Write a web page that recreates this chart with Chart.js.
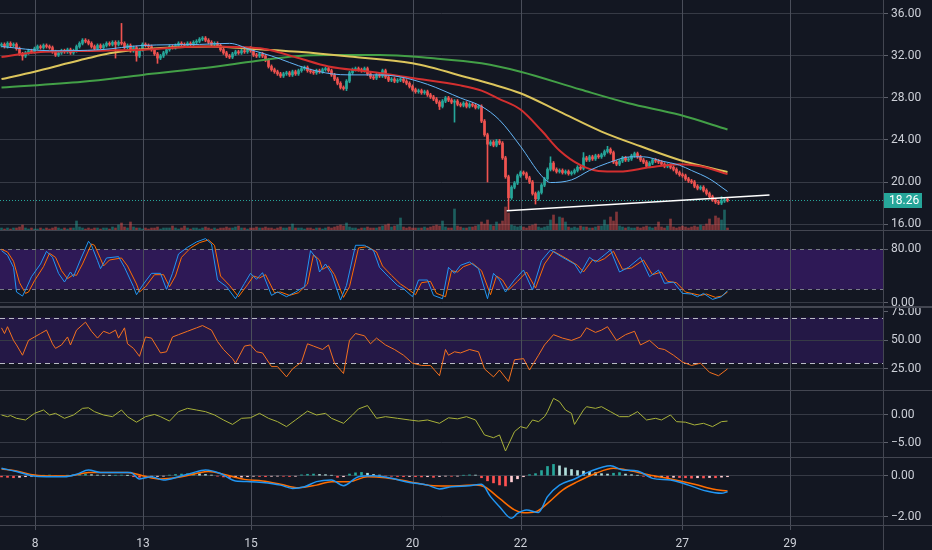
<!DOCTYPE html>
<html><head><meta charset="utf-8">
<script src="https://cdn.jsdelivr.net/npm/chart.js@4.4.1/dist/chart.umd.min.js"></script>
<style>
html,body{margin:0;padding:0;background:#131722;width:932px;height:550px;overflow:hidden;}
canvas{position:absolute;left:0;z-index:2;}
.sep{position:absolute;left:0;width:932px;background:#434651;z-index:3;}
.vg{position:absolute;top:0;width:1px;height:530px;background:#4a4e5a;z-index:1;}
#vline{position:absolute;left:883px;top:0;width:1px;height:550px;background:#434651;z-index:3;}
</style></head><body>
<canvas id="cMain" width="932" height="230" style="top:0px;width:932px;height:230px"></canvas>
<canvas id="cStoch" width="932" height="75" style="top:231px;width:932px;height:75px"></canvas>
<canvas id="cRsi" width="932" height="82" style="top:308px;width:932px;height:82px"></canvas>
<canvas id="cMom" width="932" height="66" style="top:391px;width:932px;height:66px"></canvas>
<canvas id="cMacd" width="932" height="92" style="top:458px;width:932px;height:92px"></canvas>
<div class="sep" style="top:230px;height:1px"></div>
<div class="sep" style="top:306px;height:2px"></div>
<div class="sep" style="top:390px;height:1px"></div>
<div class="sep" style="top:457px;height:1px"></div>
<div class="sep" style="top:525px;height:1px"></div>
<div id="vline"></div>
<script>
// ---------------- DATA ----------------
const dayLabels = ["8","13","15","20","22","27","29"];
const dayTickBars = [11.17, 47.17, 83.17, 137, 173, 226.9, 262.83];
const priceTicks = [16, 20, 24, 28, 32, 36];
const firstOpen = 33.0;
const closes = [
33.1,32.9,33.2,33.0,33.1,32.7,32.2,32.0,32.3,32.5,32.4,32.7,32.9,32.8,33.0,32.9,32.8,32.4,32.1,32.3,
32.5,32.4,32.6,32.3,32.5,32.9,33.2,33.5,33.4,33.2,32.9,32.7,33.0,32.8,33.0,33.2,33.1,33.3,33.1,33.3,
33.2,32.8,33.0,32.5,32.8,32.0,32.6,33.1,33.0,32.9,32.6,32.2,31.8,32.0,32.3,32.6,32.9,32.8,33.0,33.2,
33.1,33.0,33.2,33.1,33.3,33.4,33.6,33.7,33.5,33.3,33.1,33.2,33.0,32.6,32.3,32.0,31.9,32.2,32.4,32.3,
32.5,32.4,32.6,32.5,32.1,32.0,32.2,32.0,31.6,31.0,30.7,30.5,30.3,30.1,30.3,30.4,30.2,30.5,30.3,30.6,
30.8,30.9,30.6,30.5,30.4,30.6,30.5,30.7,30.8,30.6,30.2,29.8,29.4,29.0,28.9,29.6,30.4,30.7,30.8,30.7,
30.6,30.8,30.3,30.0,29.9,30.2,30.1,30.6,30.0,29.7,29.8,29.6,29.7,29.8,29.6,29.4,29.1,28.8,28.6,28.7,
28.5,28.6,28.3,28.1,27.9,27.6,27.2,27.7,28.0,27.8,27.6,27.7,27.4,27.3,27.5,27.2,27.4,27.3,27.1,27.2,
25.8,24.5,23.6,23.8,23.5,23.9,23.7,22.3,20.5,18.5,19.5,19.9,20.6,20.9,20.8,20.4,20.0,18.9,18.4,19.0,
19.7,20.3,21.2,21.8,21.2,21.0,21.1,20.9,21.0,20.8,20.9,21.1,21.4,21.3,22.3,22.1,22.4,22.2,22.5,22.4,
22.6,22.9,23.1,22.8,21.9,21.7,22.0,22.3,22.1,22.2,22.5,22.7,22.4,22.1,21.9,21.5,21.8,22.1,22.0,21.9,
21.7,21.5,21.6,21.4,21.2,20.9,20.7,20.6,20.3,20.1,20.0,19.6,19.4,19.5,19.2,18.9,18.6,18.3,18.1,18.0,
18.2,18.3,18.26];
const baseWick = 0.15;
const wickExtremes = [[7,null,31.6],[38,null,31.8],[40,35.1,null],[45,null,31.5],[52,null,31.3],[83,32.9,null],
[115,null,28.7],[146,null,26.9],[151,null,25.7],[162,null,20.0],[169,null,17.3],[178,null,17.9],[183,22.4,null],
[194,22.8,null],[202,23.4,null],[240,18.6,null]];
const volumes = [
2,1,2,1,2,2,3,5,2,1,2,1,1,2,1,2,1,2,3,2,
1,2,1,2,2,9,3,2,1,2,1,2,2,1,2,2,1,3,2,5,
7,3,2,8,3,2,2,1,2,1,2,2,3,1,2,2,2,4,2,1,
2,4,2,1,2,2,1,2,3,2,1,2,1,2,2,3,2,2,3,4,
2,2,1,2,2,3,2,2,3,2,2,1,2,3,2,2,3,6,2,2,
2,1,2,2,1,2,2,1,2,3,2,3,4,5,4,7,3,2,2,1,
2,2,3,2,2,2,3,4,5,6,3,4,5,12,3,2,3,2,2,2,
2,3,2,3,4,5,4,9,3,2,2,21,4,3,2,2,3,3,4,5,
8,6,10,5,4,8,6,9,23,17,5,4,3,4,3,2,4,5,6,3,
2,3,4,10,15,6,13,12,8,3,2,3,2,4,3,3,2,2,3,4,
4,10,5,13,9,18,4,3,2,3,2,2,3,2,3,4,3,2,3,8,
3,2,4,11,3,2,3,4,3,2,3,4,3,5,4,6,11,5,14,12,
10,20,2];
const maBlue = [[0,32.9],[16,32.5],[33,32.6],[47,33.0],[66,33.1],[76,33.2],[83,32.6],[90,32.0],[102,30.8],[110,30.3],
[116,30.2],[126,30.2],[133,30.0],[142,29.3],[153,28.0],[160,27.2],[166,25.9],[173,23.4],[180,20.6],[183,19.95],
[190,20.2],[196,21.1],[202,21.8],[210,22.4],[214,22.4],[220,22.0],[226,21.6],[230,21.1],[236,20.3],[242,19.1]];
const maRed = [[0,31.9],[10,32.3],[33,32.5],[47,32.6],[66,32.9],[83,32.8],[89,32.6],[99,31.8],[109,31.0],[123,30.5],
[137,29.9],[153,29.2],[160,28.7],[166,27.9],[173,26.9],[180,24.9],[186,23.0],[193,21.6],[199,21.05],[206,21.0],
[216,21.4],[226,21.7],[233,21.5],[242,20.75]];
const maYellow = [[0,29.8],[11,30.5],[22,31.3],[29,31.8],[36,32.25],[42,32.5],[49,32.67],[57,32.8],[70,32.9],[80,32.75],
[99,32.4],[116,31.95],[137,31.3],[156,29.9],[163,29.35],[173,28.45],[186,26.7],[200,24.8],[213,23.4],[226,22.1],[242,20.95]];
const maGreen = [[0,29.0],[27,29.55],[47,30.2],[66,30.8],[83,31.45],[99,32.0],[110,32.1],[126,32.1],[143,31.8],
[160,31.3],[173,30.5],[193,28.8],[209,27.5],[226,26.4],[242,25.0]];
const trendline = [[168.4,17.27],[256,18.76]];
const lastPrice = 18.26;

const stochK = [[0,78],[2,71],[4,53],[5,16],[7,10],[8,19],[10,39],[13,58],[15,77],[17,68],[19,44],[21,31],[23,46],[24,39],
[26,61],[29,92],[30,86],[32,63],[33,51],[35,67],[39,69],[41,53],[44,24],[45,12],[47,26],[50,44],[53,44],[55,20],[57,44],
[59,73],[62,83],[65,91],[68,96],[70,88],[72,34],[75,24],[78,6],[81,29],[83,44],[85,35],[87,45],[90,11],[92,16],[95,9],
[98,16],[101,24],[103,78],[105,66],[106,46],[108,58],[110,44],[113,4],[115,26],[118,86],[121,86],[124,78],[126,53],
[129,39],[132,26],[134,21],[137,9],[139,34],[142,34],[144,11],[147,6],[149,53],[151,44],[153,56],[156,61],[159,51],
[162,6],[164,44],[166,34],[168,16],[171,34],[174,49],[177,19],[180,63],[183,79],[187,68],[191,58],[193,44],[196,68],
[198,61],[200,68],[203,79],[206,46],[209,53],[213,68],[216,39],[219,49],[221,29],[224,31],[227,14],[230,13],[232,9],
[234,14],[237,5],[240,9],[242,18]];
const stochD = [[0,80],[2,76],[4,62],[6,30],[8,14],[9,16],[11,33],[14,54],[16,74],[18,68],[20,48],[22,36],[24,42],[25,41],
[27,58],[30,88],[31,86],[33,66],[34,55],[36,64],[40,67],[42,55],[45,28],[46,16],[48,24],[51,42],[54,42],[56,24],[58,40],
[60,68],[63,82],[66,90],[69,94],[71,86],[73,40],[76,26],[79,9],[82,27],[84,40],[86,37],[88,42],[91,15],[93,16],[96,11],
[99,15],[102,28],[104,72],[106,64],[107,50],[109,55],[111,42],[114,8],[116,24],[119,82],[122,84],[125,76],[127,55],
[130,41],[133,28],[135,22],[138,12],[140,30],[143,32],[145,14],[148,9],[150,48],[152,46],[154,54],[157,59],[160,48],
[163,12],[165,40],[167,34],[169,19],[172,32],[175,46],[178,22],[181,58],[184,77],[188,67],[192,56],[194,46],[197,64],
[199,62],[201,66],[204,77],[207,50],[210,52],[214,64],[217,42],[220,46],[222,32],[225,30],[228,16],[231,13],[233,11],
[235,13],[238,8],[240,10],[242,16]];
const rsi = [[0,61],[1,56],[2,62],[4,50],[5,46],[7,37],[9,50],[11,53],[13,56],[15,59],[17,47],[18,43],[20,46],[22,53],
[23,46],[25,59],[28,66],[30,58],[32,52],[34,58],[36,56],[38,59],[39,52],[41,61],[42,47],[44,43],[46,36],[48,53],[50,52],
[53,39],[55,40],[57,53],[59,55],[62,58],[65,61],[67,63],[70,59],[72,49],[74,42],[77,34],[78,30],[81,45],[83,46],[85,40],
[87,39],[90,27],[92,27],[95,18],[97,25],[100,31],[102,47],[104,45],[107,42],[109,46],[111,30],[114,21],[116,50],[118,56],
[121,54],[123,47],[125,52],[128,46],[131,42],[134,37],[137,30],[140,28],[143,28],[146,19],[148,42],[149,37],[151,40],
[153,39],[156,42],[159,40],[161,25],[164,18],[166,24],[169,14],[171,33],[174,34],[176,24],[179,37],[181,46],[184,55],
[187,52],[190,50],[193,53],[195,61],[198,57],[200,59],[202,62],[205,50],[208,55],[211,58],[213,46],[216,50],[219,43],
[221,42],[224,37],[227,31],[230,28],[233,30],[236,22],[239,19],[242,25]];
const momentum = [[0,0],[2,-0.3],[3,-0.1],[5,-0.6],[8,-0.9],[11,0.3],[14,0.9],[16,0],[18,0.3],[21,-0.6],[24,0],[27,1.2],
[29,1.3],[31,0.6],[34,0],[37,-0.3],[40,0.9],[42,-0.3],[45,-1.3],[48,-0.3],[51,0.1],[53,-0.3],[56,-1.1],[59,0.6],[62,1.2],
[65,0.9],[68,0.6],[71,0],[74,-0.9],[77,-1.7],[80,-0.6],[83,-0.5],[86,0.3],[89,-0.6],[92,-1.2],[95,-2.1],[98,-0.9],[102,0.7],
[105,0],[108,0.3],[110,-0.6],[114,-1.5],[117,0],[119,1.1],[122,1.7],[125,-0.6],[128,-0.3],[132,-0.6],[136,-0.9],[139,-1.1],
[142,-0.9],[146,-1.5],[149,-0.5],[152,-0.7],[155,-0.3],[158,-0.9],[161,-3.6],[164,-4.1],[166,-3.6],[168,-6.5],[171,-3.0],
[173,-2.1],[175,-2.4],[177,-0.9],[179,-1.2],[181,-0.3],[182,0.6],[184,3.0],[186,2.4],[188,0.9],[190,0.3],[191,-1.7],
[194,0.9],[195,1.5],[198,1.2],[200,1.5],[203,0.6],[206,-0.3],[209,-0.3],[212,0.6],[215,-0.9],[218,-0.6],[220,-0.9],
[223,0],[225,-1.2],[228,-1.3],[231,-1.8],[234,-1.5],[237,-2.1],[240,-1.2],[242,-1.1]];
const macdLine = [[0,0.36],[5,0.2],[10,0],[15,-0.05],[21,-0.05],[25,0.07],[29,0.28],[33,0.16],[39,0.15],[43,0.16],
[46,-0.16],[50,-0.05],[54,-0.21],[59,-0.05],[63,0.11],[68,0.28],[73,0.11],[78,-0.26],[83,-0.29],[87,-0.33],[93,-0.46],
[97,-0.62],[101,-0.54],[105,-0.29],[110,-0.21],[114,-0.49],[119,-0.05],[124,0],[130,-0.13],[136,-0.33],[142,-0.46],
[146,-0.65],[150,-0.54],[156,-0.49],[160,-0.42],[163,-1.02],[166,-1.51],[170,-2.08],[172,-1.84],[175,-1.67],[179,-1.79],
[182,-1.02],[186,-0.46],[191,-0.16],[196,0.2],[203,0.49],[207,0.28],[212,0.23],[217,-0.13],[223,-0.21],[229,-0.46],
[235,-0.75],[240,-0.86],[242,-0.78]];
const macdSignal = [[0,0.33],[5,0.23],[11,0.03],[17,-0.02],[23,0],[29,0.15],[35,0.16],[42,0.16],[47,0],[53,-0.16],
[59,-0.08],[65,0.11],[69,0.2],[75,0.03],[81,-0.18],[87,-0.26],[93,-0.42],[99,-0.59],[105,-0.46],[110,-0.29],[116,-0.29],
[122,-0.05],[128,-0.1],[136,-0.29],[144,-0.49],[150,-0.5],[158,-0.46],[161,-0.54],[166,-1.11],[171,-1.67],[174,-1.81],
[178,-1.76],[182,-1.35],[187,-0.7],[192,-0.29],[198,0.11],[204,0.36],[210,0.23],[216,0.03],[223,-0.16],[231,-0.42],
[237,-0.65],[242,-0.75]];
const histStep = 2;
const macdHist = [
-0.06,-0.08,-0.1,-0.08,-0.05,-0.03,
-0.02,0.01,0.03,-0.02,-0.03,0.02,0.04,0.06,0.08,0.05,
0.03,0.02,0.01,0.02,0.03,0.01,-0.05,-0.08,-0.1,-0.06,
-0.04,-0.02,0.03,0.06,0.08,0.1,0.12,0.09,0.06,0.03,
-0.02,-0.06,-0.1,-0.09,-0.07,-0.05,-0.03,-0.04,-0.05,-0.03,
-0.02,-0.03,-0.04,-0.03,0.04,0.07,0.08,0.06,0.05,0.02,
-0.08,-0.05,0.08,0.14,0.16,0.12,0.06,0.03,-0.02,-0.03,
-0.04,-0.05,-0.04,-0.05,-0.06,-0.05,-0.08,-0.04,-0.02,-0.03,
-0.02,0.02,0.04,0.03,-0.1,-0.25,-0.35,-0.45,-0.5,-0.3,
-0.15,-0.05,0.05,0.1,0.25,0.45,0.55,0.48,0.38,0.3,
0.25,0.22,0.18,0.15,0.1,0.08,0.12,0.15,0.08,0.05,
0.02,-0.03,-0.05,-0.07,-0.06,-0.1,-0.08,-0.09,-0.1,-0.12,
-0.1,-0.11,-0.09,-0.1,-0.07,-0.05];

// ---------------- STYLE ----------------
const GRID = '#363a45', VGRID = '#4a4e5a', TXT = '#cdd0d8', TICKC = '#5d606b';
const FONT = {family: 'Roboto, "Noto Sans", sans-serif', size: 12};
const UP = '#26a69a', DN = '#ef5350';
const XMIN = -0.5, XMAX = 293.83;
Chart.defaults.font.family = FONT.family;

const paneDeco = {
  id: 'paneDeco',
  beforeDraw(chart, args, o) {
    const a = chart.chartArea, ctx = chart.ctx;
    if (o && o.band) {
      const y = chart.scales.y;
      const t = y.getPixelForValue(o.band[1]), b = y.getPixelForValue(o.band[0]);
      ctx.save(); ctx.fillStyle = o.bandColor; ctx.fillRect(a.left, t, a.right - a.left, b - t); ctx.restore();
    }
  },
  beforeDatasetsDraw(chart, args, o) {
    const a = chart.chartArea, y = chart.scales.y, xs = chart.scales.x, ctx = chart.ctx;
    ctx.save();
    ctx.fillStyle = VGRID;
    dayTickBars.forEach(v => {
      const px = Math.round(xs.getPixelForValue(v));
      ctx.fillRect(px, a.top, 1, a.bottom - a.top + ((o && o.xTicks) ? 5 : 0));
    });
    ctx.restore();
    if (!o) return;
    (o.dashes || []).forEach(v => {
      const py = Math.round(y.getPixelForValue(v)) + 0.5;
      ctx.save(); ctx.strokeStyle = o.dashColor; ctx.lineWidth = 1; ctx.setLineDash(o.dash || [4, 4]);
      ctx.beginPath(); ctx.moveTo(a.left, py); ctx.lineTo(a.right, py); ctx.stroke(); ctx.restore();
    });
    if (o.priceLine != null) {
      const py = Math.round(y.getPixelForValue(o.priceLine)) + 0.5;
      ctx.save(); ctx.strokeStyle = UP; ctx.lineWidth = 1; ctx.setLineDash([1, 2]);
      ctx.beginPath(); ctx.moveTo(a.left, py); ctx.lineTo(a.right, py); ctx.stroke(); ctx.restore();
    }
  },
  afterDraw(chart, args, o) {
    if (!o || o.priceLine == null) return;
    const a = chart.chartArea, y = chart.scales.y, ctx = chart.ctx;
    const py = y.getPixelForValue(o.priceLine);
    ctx.save();
    ctx.fillStyle = UP; ctx.fillRect(a.right, Math.round(py) - 7, 39, 15);
    ctx.fillStyle = '#ffffff'; ctx.font = '12px ' + FONT.family; ctx.textBaseline = 'middle'; ctx.textAlign = 'left';
    ctx.fillText(o.priceLine.toFixed(2), a.right + 6, Math.round(py) + 1);
    ctx.restore();
  }
};
Chart.register(paneDeco);

const fmt = v => (v < 0 ? '\u2212' : '') + Math.abs(v).toFixed(2);
const noPad = s => { s.paddingTop = 0; s.paddingBottom = 0; s.paddingLeft = 0; s.paddingRight = 0; };

function xAxis(showLabels) {
  return {
    type: 'linear', min: XMIN, max: XMAX, offset: false,
    afterBuildTicks: s => { s.ticks = dayTickBars.map(v => ({value: v})); },
    afterFit: s => { s.height = showLabels ? 25 : 0; noPad(s); },
    grid: {display: false, offset: false, drawTicks: showLabels, tickLength: 5},
    border: {display: false},
    ticks: {display: showLabels, color: TXT, font: FONT, padding: 7, maxRotation: 0, autoSkip: false,
      callback: (v, i) => dayLabels[i]}
  };
}
function yAxis(min, max, ticks, hideGrid) {
  return {
    type: 'linear', position: 'right', min, max,
    afterBuildTicks: s => { s.ticks = ticks.map(v => ({value: v})); },
    afterFit: s => { s.width = 49; noPad(s); },
    grid: {color: c => (c.tick && hideGrid && hideGrid.includes(c.tick.value)) ? 'rgba(0,0,0,0)' : GRID,
      offset: false, drawTicks: true, tickLength: 5, tickColor: TICKC},
    border: {display: false},
    ticks: {color: TXT, font: FONT, padding: 3, autoSkip: false, callback: v => fmt(v)}
  };
}
function opts(yCfg, showX, deco, extra) {
  return {
    responsive: false, animation: false, events: [],
    layout: {padding: 0, autoPadding: false},
    plugins: {legend: {display: false}, tooltip: {enabled: false}, paneDeco: deco || {}},
    scales: Object.assign({x: xAxis(showX), y: yCfg}, extra || {})
  };
}
const pts = arr => arr.map(p => ({x: p[0], y: p[1]}));
function lineDs(data, color, width, tension, order) {
  return {type: 'line', data: pts(data), borderColor: color, borderWidth: width, pointRadius: 0,
    tension: tension, cubicInterpolationMode: tension ? 'monotone' : 'default', fill: false, order: order};
}

// ---------------- MAIN PANE ----------------
const opens = closes.map((c, i) => i === 0 ? firstOpen : closes[i - 1]);
const highs = closes.map((c, i) => Math.max(c, opens[i]) + baseWick);
const lows = closes.map((c, i) => Math.min(c, opens[i]) - baseWick);
wickExtremes.forEach(([i, h, l]) => { if (h != null) highs[i] = h; if (l != null) lows[i] = l; });
const candleCol = closes.map((c, i) => c >= opens[i] ? UP : DN);
const volCol = closes.map((c, i) => c >= opens[i] ? 'rgba(38,166,154,0.5)' : 'rgba(239,83,80,0.5)');

const mainChart = new Chart(document.getElementById('cMain'), {
  type: 'bar',
  data: {datasets: [
    {type: 'bar', data: volumes.map((v, i) => ({x: i, y: v})), yAxisID: 'yVol', backgroundColor: volCol,
      barThickness: 2, grouped: false, order: 20},
    {type: 'bar', data: closes.map((c, i) => ({x: i, y: [lows[i], highs[i]]})), backgroundColor: candleCol,
      barThickness: 1, grouped: false, order: 19},
    {type: 'bar', data: closes.map((c, i) => ({x: i, y: [opens[i], c]})), backgroundColor: candleCol,
      barThickness: 2, minBarLength: 1, grouped: false, order: 18},
    lineDs(maGreen, '#43a047', 2, 0.4, 6),
    lineDs(maYellow, '#dcc55c', 2, 0.4, 5),
    lineDs(maRed, '#d32f2f', 2, 0.4, 4),
    lineDs(maBlue, '#64b5f6', 1, 0.4, 3),
    lineDs(trendline, '#ffffff', 1.5, 0, 1)
  ]},
  options: opts(yAxis(15.43, 37.33, priceTicks), false, {priceLine: lastPrice},
    {yVol: {type: 'linear', display: false, min: 0, max: 230}})
});

// vertical day grid lines placed from the library's x scale (behind the transparent canvases)
dayTickBars.forEach(v => {
  const d = document.createElement('div');
  d.className = 'vg';
  d.style.left = Math.round(mainChart.scales.x.getPixelForValue(v)) + 'px';
  document.body.appendChild(d);
});

// ---------------- STOCH ----------------
new Chart(document.getElementById('cStoch'), {
  type: 'line',
  data: {datasets: [lineDs(stochD, '#ff6d00', 1, 0, 2), lineDs(stochK, '#2196f3', 1, 0, 1)]},
  options: opts(yAxis(-4.9, 107.4, [0, 80], [80]), false,
    {band: [20, 80], bandColor: 'rgba(110,30,210,0.3)', dashes: [20, 80], dashColor: '#787b86', dash: [4, 4]})
});

// ---------------- RSI ----------------
new Chart(document.getElementById('cRsi'), {
  type: 'line',
  data: {datasets: [lineDs(rsi, '#f4711f', 1, 0, 1)]},
  options: opts(yAxis(6.5, 78.4, [25, 50, 75], [75]), false,
    {band: [30, 70], bandColor: 'rgba(100,30,200,0.22)', dashes: [30, 70], dashColor: '#b8bbc4', dash: [5, 4]})
});

// ---------------- MOMENTUM ----------------
new Chart(document.getElementById('cMom'), {
  type: 'line',
  data: {datasets: [lineDs(momentum, '#a9b23a', 1, 0, 1)]},
  options: opts(yAxis(-7.58, 4.33, [-5, 0]), false, {})
});

// ---------------- MACD ----------------
const histCol = macdHist.map((v, j) => {
  const prev = j > 0 ? macdHist[j - 1] : v;
  if (v >= 0) return v >= prev ? '#26a69a' : '#b2dfdb';
  return v <= prev ? '#ff5252' : '#ffcdd2';
});
new Chart(document.getElementById('cMacd'), {
  type: 'line',
  data: {datasets: [
    {type: 'bar', data: macdHist.map((v, j) => ({x: j * histStep, y: v})), backgroundColor: histCol,
      barThickness: 2, grouped: false, order: 5},
    lineDs(macdSignal, '#ff6d00', 1.5, 0.3, 2),
    lineDs(macdLine, '#2196f3', 1.5, 0.3, 1)
  ]},
  options: opts(yAxis(-2.405, 0.863, [-2, 0]), true, {xTicks: true})
});
</script>
</body></html>
